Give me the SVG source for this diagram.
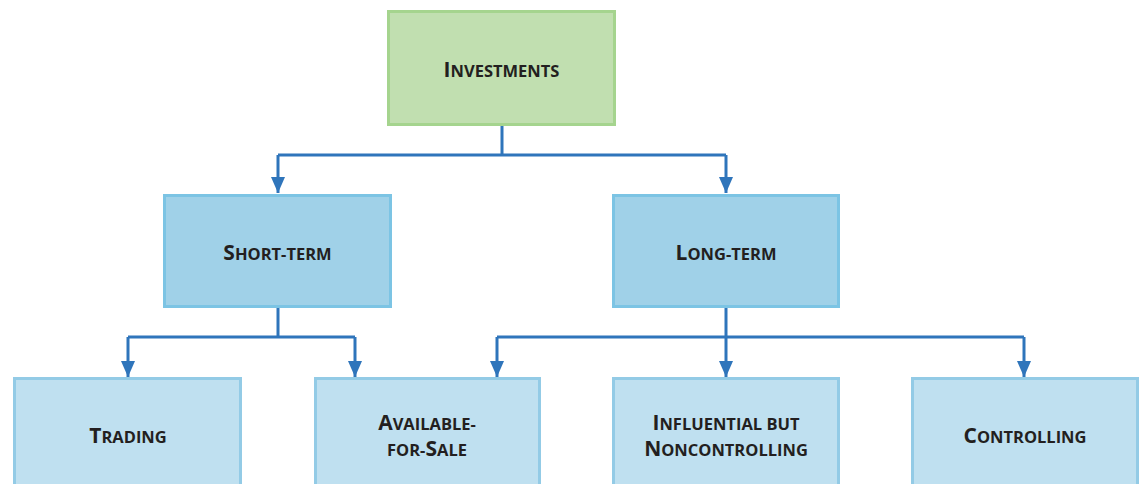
<svg xmlns="http://www.w3.org/2000/svg" width="1141" height="484" viewBox="0 0 1141 484">
<style>
.t{font-family:"Open Sans","Noto Sans",sans-serif;font-weight:700;font-size:16.5px;fill:#231f20;text-anchor:middle}
.c{font-size:21px}
.l1{fill:#c1dfb0;stroke:#a5d48e;stroke-width:3}
.l2{fill:#a0d1e8;stroke:#7cc4e4;stroke-width:3}
.l3{fill:#bfe0f0;stroke:#93cbe6;stroke-width:3}
.ln{fill:none;stroke:#2f75bb;stroke-width:3}
</style>
<defs>
<marker id="a" markerWidth="16" markerHeight="14" refX="16" refY="7" orient="auto" markerUnits="userSpaceOnUse" viewBox="0 0 16 14">
<path d="M0,0 L16,7 L0,14 Z" fill="#2f75bb"/>
</marker>
</defs>
<g id="connectors">
<path class="ln" d="M502,126 V155"/>
<path class="ln" d="M278,155 H726"/>
<path class="ln" d="M278,155 V193" marker-end="url(#a)"/>
<path class="ln" d="M726,155 V193" marker-end="url(#a)"/>
<path class="ln" d="M278,308 V337"/>
<path class="ln" d="M128,337 H355"/>
<path class="ln" d="M128,337 V377" marker-end="url(#a)"/>
<path class="ln" d="M355,337 V377" marker-end="url(#a)"/>
<path class="ln" d="M726,308 V377" marker-end="url(#a)"/>
<path class="ln" d="M497,337 H1024"/>
<path class="ln" d="M497,337 V377" marker-end="url(#a)"/>
<path class="ln" d="M1024,337 V377" marker-end="url(#a)"/>
</g>
<g id="investments">
<rect class="l1" x="388.5" y="11.5" width="226" height="113"/>
<text class="t" x="501.5" y="77"><tspan class="c">I</tspan>NVESTMENTS</text>
</g>
<g id="short-term">
<rect class="l2" x="164.5" y="195.5" width="226" height="111"/>
<text class="t" x="277.5" y="260"><tspan class="c">S</tspan>HORT-TERM</text>
</g>
<g id="long-term">
<rect class="l2" x="613.5" y="195.5" width="225" height="111"/>
<text class="t" x="726" y="260"><tspan class="c">L</tspan>ONG-TERM</text>
</g>
<g id="trading">
<rect class="l3" x="14.5" y="378.5" width="226" height="110"/>
<text class="t" x="128" y="443"><tspan class="c">T</tspan>RADING</text>
</g>
<g id="available-for-sale">
<rect class="l3" x="315.5" y="378.5" width="224" height="110"/>
<text class="t" x="427" y="430"><tspan class="c">A</tspan>VAILABLE-</text>
<text class="t" x="427" y="456">FOR-<tspan class="c">S</tspan>ALE</text>
</g>
<g id="influential">
<rect class="l3" x="613.5" y="378.5" width="225" height="110"/>
<text class="t" x="726" y="430"><tspan class="c">I</tspan>NFLUENTIAL BUT</text>
<text class="t" x="726" y="456"><tspan class="c">N</tspan>ONCONTROLLING</text>
</g>
<g id="controlling">
<rect class="l3" x="912.5" y="378.5" width="225" height="110"/>
<text class="t" x="1025" y="443"><tspan class="c">C</tspan>ONTROLLING</text>
</g>
</svg>
